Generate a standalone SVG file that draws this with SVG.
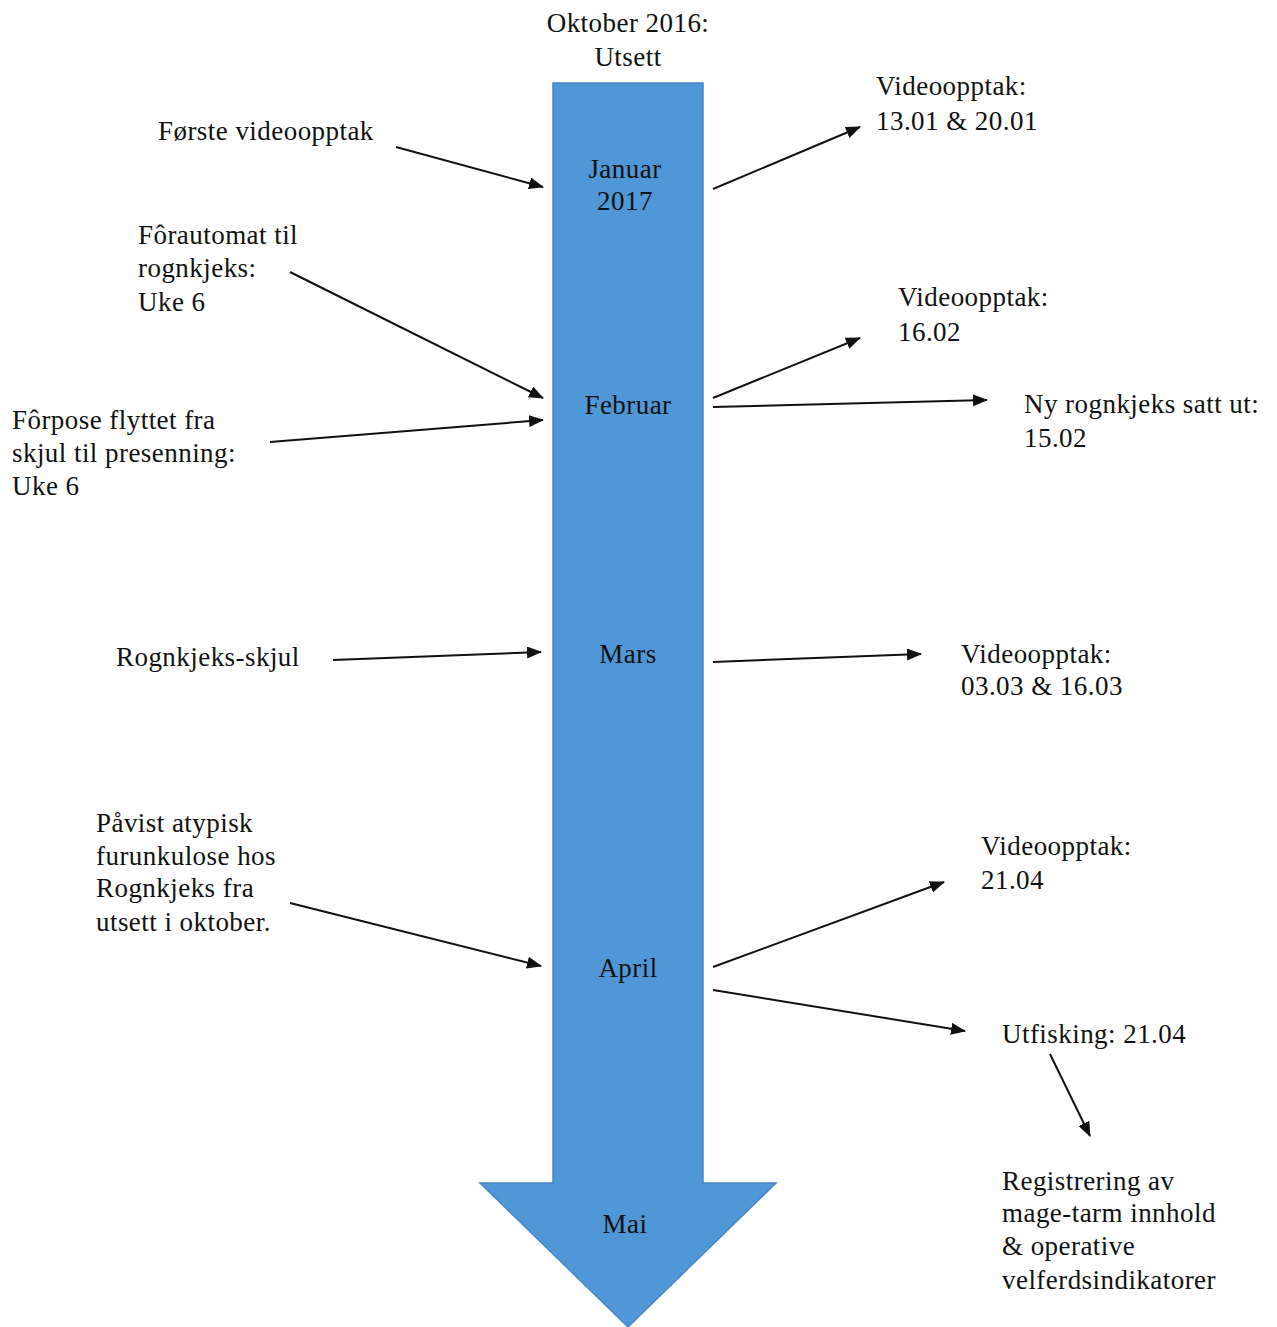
<svg xmlns="http://www.w3.org/2000/svg" width="1277" height="1327" viewBox="0 0 1277 1327">
<style>
text{font-family:"Liberation Serif","Times New Roman",serif;font-size:27px;fill:#111;letter-spacing:0.45px}
.c{text-anchor:middle}
.con line{stroke:#111;stroke-width:2;fill:none}
</style>
<defs>
<marker id="ah" markerUnits="userSpaceOnUse" markerWidth="16" markerHeight="14" refX="14" refY="6" orient="auto">
<path d="M0,0 L15,6 L0,12 Z" fill="#111"/>
</marker>
</defs>
<rect width="1277" height="1327" fill="#fff"/>
<g id="timeline">
<path d="M553,83 H703 V1183 H776 L628,1327 L480,1183 H553 Z" fill="#4F97D7" stroke="#4787c6" stroke-width="1.5"/>
<text class="c" x="628" y="32">Oktober 2016:</text>
<text class="c" x="628" y="66">Utsett</text>
<text class="c" x="625" y="178">Januar</text>
<text class="c" x="625" y="210">2017</text>
<text class="c" x="628" y="414">Februar</text>
<text class="c" x="628" y="663">Mars</text>
<text class="c" x="628" y="977">April</text>
<text class="c" x="625" y="1233">Mai</text>
</g>
<g id="n-forste"><text x="158" y="140">Første videoopptak</text></g>
<g id="n-video1"><text x="876" y="95">Videoopptak:</text><text x="876" y="130">13.01 &amp; 20.01</text></g>
<g id="n-forautomat"><text x="138" y="244">Fôrautomat til</text><text x="138" y="277">rognkjeks:</text><text x="138" y="311">Uke 6</text></g>
<g id="n-video2"><text x="898" y="306">Videoopptak:</text><text x="898" y="341">16.02</text></g>
<g id="n-ny"><text x="1024" y="413">Ny rognkjeks satt ut:</text><text x="1024" y="447">15.02</text></g>
<g id="n-forpose"><text x="12" y="429">Fôrpose flyttet fra</text><text x="12" y="462">skjul til presenning:</text><text x="12" y="495">Uke 6</text></g>
<g id="n-skjul"><text x="116" y="666">Rognkjeks-skjul</text></g>
<g id="n-video3"><text x="961" y="663">Videoopptak:</text><text x="961" y="695">03.03 &amp; 16.03</text></g>
<g id="n-pavist"><text x="96" y="832">Påvist atypisk</text><text x="96" y="865">furunkulose hos</text><text x="96" y="897">Rognkjeks fra</text><text x="96" y="931">utsett i oktober.</text></g>
<g id="n-video4"><text x="981" y="855">Videoopptak:</text><text x="981" y="889">21.04</text></g>
<g id="n-utfisking"><text x="1002" y="1043">Utfisking: 21.04</text></g>
<g id="n-registrering"><text x="1002" y="1190">Registrering av</text><text x="1002" y="1222">mage-tarm innhold</text><text x="1002" y="1255">&amp; operative</text><text x="1002" y="1289">velferdsindikatorer</text></g>
<g id="connectors" class="con">
<line x1="396" y1="147" x2="543" y2="187" marker-end="url(#ah)"/>
<line x1="713" y1="189" x2="860" y2="127" marker-end="url(#ah)"/>
<line x1="290" y1="272" x2="543" y2="398" marker-end="url(#ah)"/>
<line x1="270" y1="442" x2="543" y2="420" marker-end="url(#ah)"/>
<line x1="713" y1="398" x2="860" y2="338" marker-end="url(#ah)"/>
<line x1="713" y1="407" x2="987" y2="400" marker-end="url(#ah)"/>
<line x1="333" y1="660" x2="541" y2="652" marker-end="url(#ah)"/>
<line x1="713" y1="662" x2="921" y2="654" marker-end="url(#ah)"/>
<line x1="290" y1="903" x2="541" y2="966" marker-end="url(#ah)"/>
<line x1="713" y1="967" x2="944" y2="882" marker-end="url(#ah)"/>
<line x1="713" y1="990" x2="965" y2="1031" marker-end="url(#ah)"/>
<line x1="1050" y1="1054" x2="1090" y2="1136" marker-end="url(#ah)"/>
</g>
</svg>
